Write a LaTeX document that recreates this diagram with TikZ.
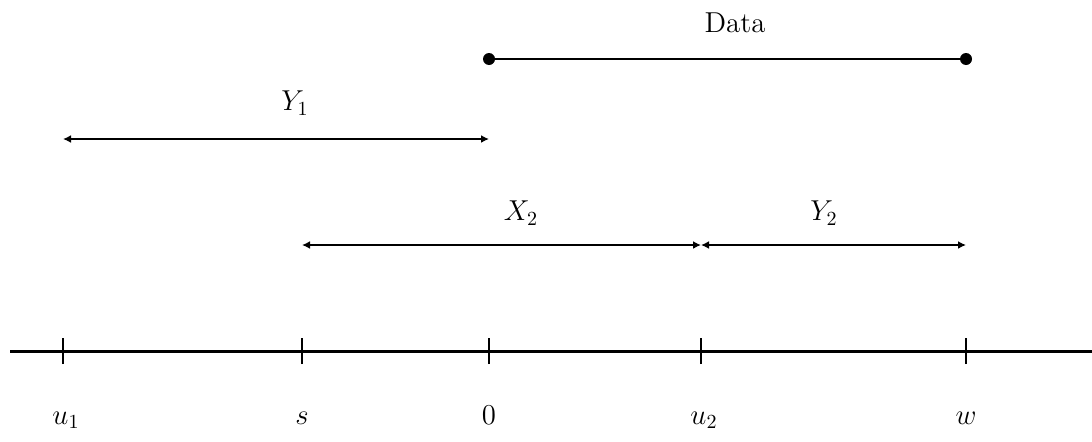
\documentclass[tikz,border=0pt]{standalone}
\usetikzlibrary{arrows.meta,calc}
\tikzset{
  axisline/.style={line width=1.5pt},
  tick/.style={line width=0.6pt},
  span/.style={{Latex[length=4pt,width=4pt]}-{Latex[length=4pt,width=4pt]}, line width=0.9pt},
  dataline/.style={line width=0.9pt},
  lbl/.style={font=\Large, inner sep=1pt},
  axlbl/.style={font=\Large, inner sep=0pt, anchor=base},
}
\newcommand{\axtick}[1]{\draw[tick] ($(#1)+(0,-13)$) -- ($(#1)+(0,13)$);}

\begin{document}
\begin{tikzpicture}[x=0.5pt, y=0.5pt]
  \useasboundingbox (0,0) rectangle (1092,441);

  %% ---- points on the axis ----
  \coordinate (left)  at (10,90);
  \coordinate (right) at (1092,90);
  \coordinate (u1) at (63,90);
  \coordinate (s)  at (302,90);
  \coordinate (z)  at (489,90);
  \coordinate (u2) at (701,90);
  \coordinate (w)  at (966,90);

  \draw[axisline] (left) -- (right);
  \axtick{u1}
  \axtick{s}
  \axtick{z}
  \axtick{u2}
  \axtick{w}

  \node[axlbl] (lu1) at (66,17)  {$u_1$};
  \node[axlbl] (ls)  at (302,17) {$s$};
  \node[axlbl] (lz)  at (489,17) {$0$};
  \node[axlbl] (lu2) at (704,17) {$u_2$};
  \node[axlbl] (lw)  at (966,17) {$w$};

  %% ---- intervals ----
  \coordinate (x2a) at (s |- 0,196);
  \coordinate (x2b) at (u2 |- 0,196);
  \coordinate (y2b) at (w |- 0,196);
  \draw[span] (x2a) -- (x2b);
  \draw[span] (x2b) -- (y2b);
  \node[lbl] (lx2) at (521,228) {$X_2$};
  \node[lbl] (ly2) at (824,228) {$Y_2$};

  \coordinate (y1a) at (u1 |- 0,302);
  \coordinate (y1b) at (z |- 0,302);
  \draw[span] (y1a) -- (y1b);
  \node[lbl] (ly1) at (295,338) {$Y_1$};

  %% ---- observed data ----
  \coordinate (d0) at (z |- 0,382);
  \coordinate (d1) at (w |- 0,382);
  \draw[dataline] (d0) -- (d1);
  \fill (d0) circle (6);
  \fill (d1) circle (6);
  \node[lbl] (ldata) at (735,418) {Data};

\end{tikzpicture}
\end{document}
